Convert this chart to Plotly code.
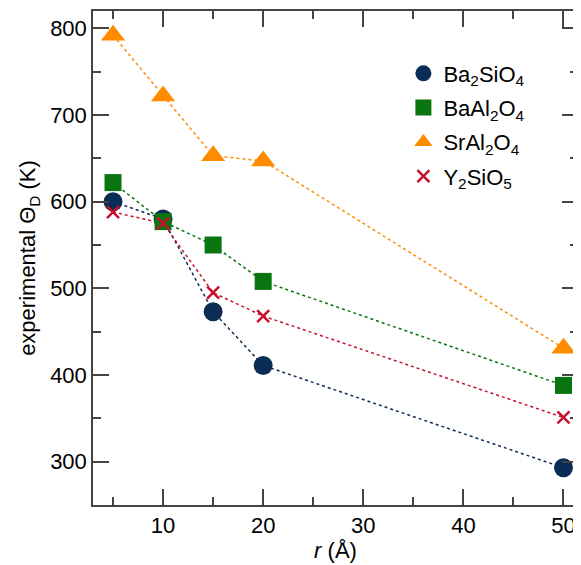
import plotly.graph_objects as go

r_vals = [5, 10, 15, 20, 50]
ba2sio4 = [600, 580, 473, 411, 293]
baal2o4 = [622, 577, 550, 508, 388]
sral2o4 = [792, 722, 653, 647, 431]
y2sio5 = [588, 575, 495, 468, 351]

names = ["Ba<sub>2</sub>SiO<sub>4</sub>", "BaAl<sub>2</sub>O<sub>4</sub>",
         "SrAl<sub>2</sub>O<sub>4</sub>", "Y<sub>2</sub>SiO<sub>5</sub>"]
colors = ["#0b2d55", "#08750f", "#ff8c00", "#c8102e"]
symbols = ["circle", "square", "triangle-up", "x-thin"]
sizes = [19, 17, 21, 12]

fig = go.Figure()
series = [ba2sio4, baal2o4, sral2o4, y2sio5]
for vals, c in zip(series, colors):
    fig.add_trace(go.Scatter(x=r_vals, y=vals, mode="lines", showlegend=False,
                             hoverinfo="skip",
                             line=dict(color=c, dash="dot", width=1.5)))
for i, (name, vals, c, s, sz) in enumerate(zip(names, series, colors, symbols, sizes)):
    marker = dict(color=c, symbol=s, size=sz)
    if s == "x-thin":
        marker["line"] = dict(color=c, width=2.5)
    else:
        marker["line"] = dict(width=0)
    fig.add_trace(go.Scatter(x=r_vals, y=vals, name=name, mode="markers",
                             legendgroup=f"g{i}", marker=marker))

font = "Liberation Sans, Arial, sans-serif"
axis_common = dict(showline=True, linecolor="#444", linewidth=1.5, mirror="ticks",
                   ticks="inside", ticklen=16, tickwidth=1.5, tickcolor="#444",
                   showgrid=False, zeroline=False,
                   tickfont=dict(size=22, color="black", family=font))
fig.update_xaxes(range=[3, 51.45], tick0=0, dtick=10,
                 minor=dict(ticks="inside", ticklen=8, dtick=5, tick0=0, tickwidth=1.5, tickcolor="#444"),
                 title=dict(text="<i>r</i> (Å)", font=dict(size=22, color="black", family=font), standoff=3),
                 **axis_common)
fig.update_yaxes(range=[250, 820], tick0=0, dtick=100,
                 minor=dict(ticks="inside", ticklen=8, dtick=50, tick0=0, tickwidth=1.5, tickcolor="#444"),
                 title=dict(text="experimental Θ<sub>D</sub> (K)", font=dict(size=22, color="black", family=font), standoff=8),
                 **axis_common)
fig.update_layout(width=573, height=557, margin=dict(l=85, r=1, t=3, b=60),
                  plot_bgcolor="white", paper_bgcolor="white",
                  font=dict(family=font, color="black"),
                  legend=dict(x=0.64, y=0.916, xanchor="left", yanchor="top",
                              font=dict(size=22, family=font, color="black"),
                              tracegroupgap=2.7,
                              bgcolor="rgba(0,0,0,0)", itemsizing="trace"))
fig.write_html("out.html")
